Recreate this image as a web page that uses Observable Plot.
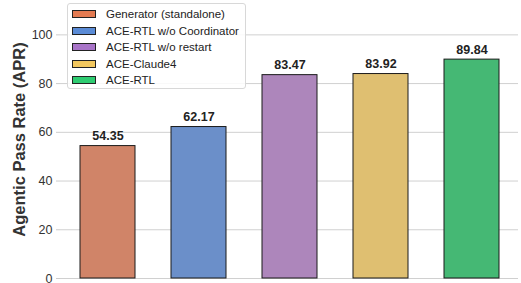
<!DOCTYPE html>
<html>
<head>
<meta charset="utf-8">
<script src="https://cdn.jsdelivr.net/npm/d3@7"></script>
<script src="https://cdn.jsdelivr.net/npm/@observablehq/plot@0.6"></script>
<style>
  html, body { margin: 0; padding: 0; background: #fff; }
  #wrap { position: relative; width: 521px; height: 283px; font-family: "Liberation Sans", Arial, sans-serif; }
  #legend { position: absolute; left: 67px; top: 3px; width: 179px; height: 86px; border: 1px solid #d8d8d8; border-radius: 3px; background: rgba(255,255,255,0.85); box-sizing: border-box; }
  .item { position: absolute; left: 4px; height: 12px; font-size: 11.5px; color: #222; line-height: 12px; white-space: nowrap; }
  .sw { position: absolute; left: 0; top: 2px; width: 24px; height: 8px; border: 1px solid #222; box-sizing: border-box; }
  .lab { position: absolute; left: 34px; top: 0; }
</style>
</head>
<body>
<div id="wrap"></div>
<script>
const categories = ["Generator (standalone)", "ACE-RTL w/o Coordinator", "ACE-RTL w/o restart", "ACE-Claude4", "ACE-RTL"];
const values = [54.35, 62.17, 83.47, 83.92, 89.84];
const barColors = ["#d08468", "#6b8fc9", "#ad86bb", "#dfbf71", "#45b874"];
const legendColors = ["#e47b52", "#5a8bd6", "#a874c8", "#f3c85f", "#2ecc71"];
const yTicks = [0, 20, 40, 60, 80, 100];

const data = categories.map((c, i) => ({cat: c, value: values[i], color: barColors[i]}));

const chart = Plot.plot({
  width: 521,
  height: 283,
  marginLeft: 60,
  marginRight: 3,
  marginTop: 10,
  marginBottom: 5,
  style: {fontFamily: "Liberation Sans, Arial, sans-serif", background: "#fff", overflow: "visible"},
  x: {domain: categories, paddingInner: 0.4, paddingOuter: 0.207, axis: null},
  y: {domain: [0, 110], ticks: yTicks, label: null, axis: null},
  marks: [
    Plot.gridY(yTicks, {stroke: "#d0d0d0", strokeOpacity: 1, strokeWidth: 1}),
    Plot.axisY(yTicks, {tickSize: 4, tickPadding: 4, stroke: "#cccccc", fill: "#333", fontSize: 12.5, label: null}),
    Plot.barY(data, {x: "cat", y: "value", fill: "color", stroke: "#1a1a1a", strokeWidth: 1}),
    Plot.text(data, {x: "cat", y: "value", text: d => d.value.toFixed(2), dy: -10, fontSize: 12.5, fontWeight: "bold", fill: "#222"}),
    Plot.text(["Agentic Pass Rate (APR)"], {frameAnchor: "left", textAnchor: "middle", dx: -41, dy: -5, rotate: -90, fontSize: 16.5, fontWeight: "bold", fill: "#333"})
  ]
});

const wrap = document.getElementById("wrap");
wrap.appendChild(chart);

const legend = document.createElement("div");
legend.id = "legend";
categories.forEach((c, i) => {
  const it = document.createElement("div");
  it.className = "item";
  it.style.top = (4 + i * 16.6) + "px";
  const sw = document.createElement("div");
  sw.className = "sw";
  sw.style.background = legendColors[i];
  const lab = document.createElement("span");
  lab.className = "lab";
  lab.textContent = c;
  it.appendChild(sw);
  it.appendChild(lab);
  legend.appendChild(it);
});
wrap.appendChild(legend);
</script>
</body>
</html>
